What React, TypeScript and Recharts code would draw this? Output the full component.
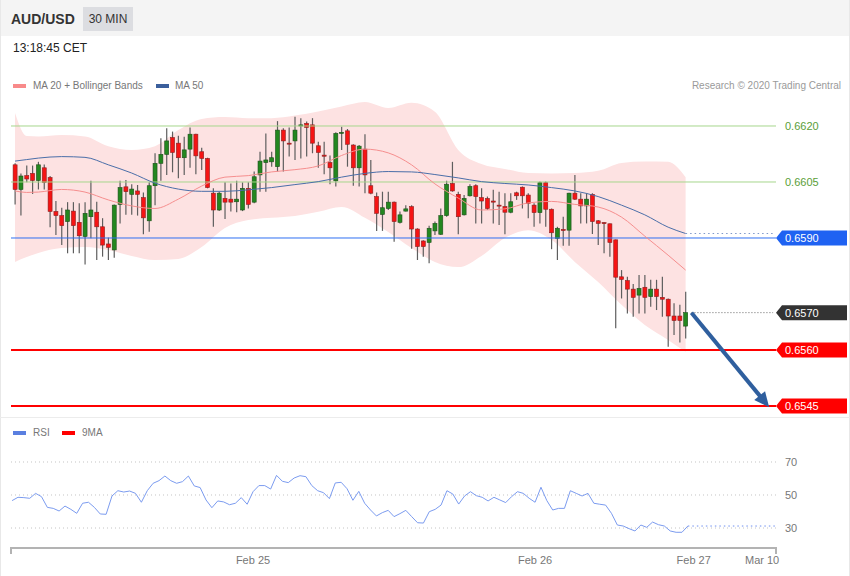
import React from 'react';
import { ComposedChart, Bar, Line, Area, XAxis, YAxis, ReferenceLine } from 'recharts';

const FONT = '"Liberation Sans", Arial, Helvetica, sans-serif';

// AUD/USD 30 min candles, oldest first
const open = [
  0.66096, 0.66030, 0.66067, 0.66073, 0.66054, 0.66088, 0.66062, 0.65971, 0.65960, 0.65944,
  0.65972, 0.65942, 0.65904, 0.65957, 0.65969, 0.65930, 0.65884, 0.65868, 0.65990, 0.66037,
  0.66017, 0.66026, 0.66008, 0.65946, 0.66040, 0.66100, 0.66124, 0.66169, 0.66154, 0.66115,
  0.66138, 0.66178, 0.66131, 0.66113, 0.66020, 0.65975, 0.66006, 0.66004, 0.65997, 0.65975,
  0.66033, 0.65996, 0.66069, 0.66102, 0.66104, 0.66091, 0.66189, 0.66154, 0.66160, 0.66200,
  0.66207, 0.66203, 0.66147, 0.66122, 0.66102, 0.66053, 0.66180, 0.66187, 0.66149, 0.66088,
  0.66138, 0.66040, 0.66011, 0.65963, 0.65979, 0.65996, 0.65942, 0.65972, 0.65984, 0.65924,
  0.65892, 0.65888, 0.65919, 0.65910, 0.65960, 0.66046, 0.66017, 0.65962, 0.66013, 0.66040,
  0.66008, 0.66006, 0.65999, 0.65988, 0.65984, 0.65969, 0.66021, 0.66036, 0.66015, 0.65988,
  0.65968, 0.66048, 0.65977, 0.65899, 0.65923, 0.65921, 0.66020, 0.66004, 0.65986, 0.66017,
  0.65946, 0.65941, 0.65938, 0.65895, 0.65796, 0.65786, 0.65763, 0.65747, 0.65768, 0.65743,
  0.65763, 0.65741, 0.65736, 0.65691, 0.65691, 0.65664,
];
const high = [
  0.66100, 0.66073, 0.66094, 0.66094, 0.66104, 0.66097, 0.66066, 0.65999, 0.65981, 0.65996,
  0.65996, 0.65993, 0.65996, 0.66053, 0.65997, 0.65953, 0.65901, 0.65990, 0.66053, 0.66055,
  0.66044, 0.66042, 0.66022, 0.66049, 0.66127, 0.66167, 0.66194, 0.66185, 0.66174, 0.66171,
  0.66196, 0.66179, 0.66142, 0.66115, 0.66033, 0.66024, 0.66049, 0.66046, 0.66053, 0.66049,
  0.66049, 0.66078, 0.66131, 0.66180, 0.66131, 0.66213, 0.66194, 0.66196, 0.66225, 0.66221,
  0.66212, 0.66221, 0.66158, 0.66158, 0.66121, 0.66183, 0.66198, 0.66192, 0.66151, 0.66149,
  0.66178, 0.66109, 0.66022, 0.66024, 0.66024, 0.65998, 0.65971, 0.65988, 0.65988, 0.65926,
  0.65894, 0.65933, 0.65944, 0.65979, 0.66053, 0.66104, 0.66024, 0.66015, 0.66044, 0.66044,
  0.66033, 0.66011, 0.66029, 0.66024, 0.66020, 0.66020, 0.66024, 0.66038, 0.66020, 0.65993,
  0.66051, 0.66051, 0.65979, 0.65930, 0.65957, 0.66021, 0.66069, 0.66020, 0.66020, 0.66020,
  0.65948, 0.65943, 0.65939, 0.65896, 0.65814, 0.65796, 0.65777, 0.65801, 0.65801, 0.65788,
  0.65788, 0.65796, 0.65738, 0.65725, 0.65721, 0.65756,
];
const low = [
  0.65990, 0.65960, 0.66049, 0.66018, 0.66030, 0.66030, 0.65929, 0.65908, 0.65881, 0.65859,
  0.65859, 0.65859, 0.65829, 0.65899, 0.65841, 0.65850, 0.65841, 0.65847, 0.65939, 0.65962,
  0.65962, 0.65960, 0.65910, 0.65917, 0.65988, 0.66053, 0.66069, 0.66076, 0.66060, 0.66069,
  0.66088, 0.66071, 0.66082, 0.66033, 0.65930, 0.65972, 0.65951, 0.65971, 0.65969, 0.65972,
  0.65979, 0.65993, 0.66024, 0.66024, 0.66091, 0.66078, 0.66078, 0.66118, 0.66109, 0.66113,
  0.66118, 0.66127, 0.66088, 0.66071, 0.66044, 0.66038, 0.66136, 0.66091, 0.66040, 0.66038,
  0.66020, 0.66017, 0.65919, 0.65919, 0.65975, 0.65890, 0.65939, 0.65971, 0.65871, 0.65841,
  0.65850, 0.65832, 0.65908, 0.65908, 0.65957, 0.66024, 0.65910, 0.65960, 0.66011, 0.65939,
  0.65939, 0.65975, 0.65939, 0.65935, 0.65910, 0.65966, 0.66002, 0.65979, 0.65953, 0.65930,
  0.65939, 0.65930, 0.65870, 0.65841, 0.65879, 0.65879, 0.66002, 0.65939, 0.65939, 0.65911,
  0.65881, 0.65859, 0.65850, 0.65658, 0.65738, 0.65698, 0.65689, 0.65698, 0.65698, 0.65716,
  0.65707, 0.65689, 0.65609, 0.65640, 0.65620, 0.65631,
];
const close = [
  0.66030, 0.66066, 0.66058, 0.66054, 0.66096, 0.66049, 0.65971, 0.65960, 0.65933, 0.65975,
  0.65933, 0.65906, 0.65966, 0.65975, 0.65930, 0.65881, 0.65875, 0.65988, 0.66035, 0.66024,
  0.66031, 0.66017, 0.65954, 0.66040, 0.66100, 0.66124, 0.66160, 0.66129, 0.66115, 0.66136,
  0.66178, 0.66120, 0.66113, 0.66035, 0.65975, 0.66020, 0.65996, 0.65996, 0.66004, 0.66033,
  0.65990, 0.66064, 0.66106, 0.66109, 0.66115, 0.66189, 0.66160, 0.66152, 0.66189, 0.66203,
  0.66196, 0.66154, 0.66129, 0.66119, 0.66088, 0.66180, 0.66183, 0.66151, 0.66088, 0.66146,
  0.66069, 0.66020, 0.65966, 0.65981, 0.65996, 0.65944, 0.65962, 0.65978, 0.65924, 0.65877,
  0.65877, 0.65926, 0.65939, 0.65960, 0.66044, 0.66026, 0.65957, 0.66006, 0.66038, 0.66011,
  0.65999, 0.65979, 0.65996, 0.65986, 0.65969, 0.65997, 0.66013, 0.66013, 0.65993, 0.65968,
  0.66048, 0.65977, 0.65914, 0.65926, 0.65920, 0.66020, 0.66004, 0.65986, 0.66004, 0.65944,
  0.65939, 0.65939, 0.65888, 0.65795, 0.65789, 0.65763, 0.65741, 0.65765, 0.65741, 0.65763,
  0.65743, 0.65736, 0.65691, 0.65679, 0.65679, 0.65700,
];

// overlays, every few candles
const overlayAt = [0, 2, 4, 8, 12, 16, 20, 24, 28, 32, 36, 40, 44, 48, 52, 56, 60, 64, 68, 72, 76, 80, 84, 88, 92, 96, 100, 104, 108, 112, 115];
const ma20 = [
  0.66026, 0.66022, 0.66023, 0.66030, 0.66023, 0.66002, 0.65986, 0.65979, 0.66004, 0.66039,
  0.66063, 0.66067, 0.66077, 0.66083, 0.66093, 0.66121, 0.66138, 0.66128, 0.66096, 0.66045,
  0.66007, 0.65975, 0.65978, 0.65994, 0.65998, 0.65990, 0.65983, 0.65956, 0.65905, 0.65854,
  0.65814,
];
const ma50 = [
  0.66106, 0.66110, 0.66114, 0.66118, 0.66116, 0.66096, 0.66074, 0.66047, 0.66031, 0.66025,
  0.66025, 0.66029, 0.66035, 0.66043, 0.66051, 0.66063, 0.66073, 0.66078, 0.66077, 0.66070,
  0.66061, 0.66051, 0.66046, 0.66042, 0.66035, 0.66026, 0.66011, 0.65988, 0.65962, 0.65929,
  0.65912,
];
const bbUpper = [
  0.66235, 0.66173, 0.66172, 0.66176, 0.66172, 0.66146, 0.66136, 0.66146, 0.66189, 0.66219,
  0.66224, 0.66221, 0.66221, 0.66228, 0.66239, 0.66252, 0.66264, 0.66248, 0.66262, 0.66238,
  0.66136, 0.66098, 0.66085, 0.66074, 0.66073, 0.66074, 0.66080, 0.66101, 0.66105, 0.66104,
  0.66063,
];
const bbLower = [
  0.65836, 0.65849, 0.65860, 0.65873, 0.65876, 0.65868, 0.65852, 0.65841, 0.65844, 0.65876,
  0.65927, 0.65948, 0.65954, 0.65959, 0.65970, 0.65983, 0.65954, 0.65916, 0.65873, 0.65836,
  0.65822, 0.65852, 0.65900, 0.65921, 0.65895, 0.65836, 0.65782, 0.65721, 0.65667, 0.65627,
  0.65595,
];

const rsi = [
  46.6, 48.6, 48.4, 48.0, 51.0, 49.0, 42.5, 41.9, 40.3, 43.3,
  41.3, 38.9, 45.0, 45.6, 42.5, 38.5, 38.3, 49.4, 52.6, 51.8,
  52.4, 51.0, 45.6, 52.6, 57.1, 58.7, 61.5, 58.7, 57.1, 58.1,
  61.5, 55.5, 54.5, 47.0, 42.3, 46.4, 45.8, 44.1, 45.0, 48.4,
  44.4, 52.0, 55.7, 55.7, 53.6, 61.9, 58.3, 57.5, 60.3, 61.7,
  61.1, 55.7, 52.6, 51.4, 47.8, 57.3, 57.7, 53.8, 46.8, 52.2,
  45.0, 40.9, 37.3, 39.3, 40.7, 36.9, 38.7, 40.7, 36.9, 33.2,
  33.0, 39.9, 41.3, 43.9, 52.6, 50.6, 44.5, 49.4, 52.0, 49.6,
  48.6, 46.4, 48.6, 47.0, 45.4, 49.0, 52.0, 51.0, 48.0, 45.6,
  54.7, 46.6, 40.9, 41.9, 41.9, 52.6, 51.0, 49.4, 51.0, 45.0,
  44.4, 43.9, 38.9, 31.8, 31.2, 29.6, 28.2, 31.8, 30.4, 33.6,
  32.0, 31.2, 28.2, 27.4, 27.4, 31.2,
];
const rsiLevels = [70, 50, 30];

const slotCount = 131; // candles + empty space on the right
const dateTicks = [41, 89, 116, 128];
const dateLabels = ['Feb 25', 'Feb 26', 'Feb 27', 'Mar 10'];

const resistances = [0.662, 0.6605];
const pivot = 0.659;
const lastPrice = 0.657;
const supports = [0.656, 0.6545];
const arrowFrom = 116;
const arrowTo = 129;
const arrowTarget = 0.65453;

const lastIdx = open.length - 1;
const rows = Array.from({ length: slotCount }, (_, i) => {
  const row: any = { i };
  if (i <= lastIdx) {
    row.range = [low[i], high[i]];
    row.o = open[i];
    row.c = close[i];
    row.rsi = rsi[i];
  }
  const k = overlayAt.indexOf(i);
  if (k >= 0) {
    row.ma20 = ma20[k];
    row.ma50 = ma50[k];
    row.band = [bbLower[k], bbUpper[k]];
  }
  if (i === lastIdx || i === slotCount - 1) {
    row.ma50Ext = ma50[ma50.length - 1];
    row.rsiExt = rsi[lastIdx];
  }
  return row;
});

const xPad = { left: 1.1, right: 0 };

const Candle = (props: any) => {
  const { x, y, width, height, payload } = props;
  if (!payload || payload.o == null) return null;
  const [lo, hi] = payload.range;
  const top = Math.min(y, y + height);
  const h = Math.abs(height);
  const py = (p: number) => top + ((hi - p) / (hi - lo)) * h;
  const up = payload.c >= payload.o;
  const bTop = py(Math.max(payload.o, payload.c));
  const bH = Math.max(1, py(Math.min(payload.o, payload.c)) - bTop);
  const cx = x + width / 2;
  return (
    <g>
      <line x1={cx} x2={cx} y1={top} y2={top + h} stroke="#5e5e5e" strokeWidth={1.2} />
      <rect x={x} y={bTop} width={width} height={bH}
        fill={up ? '#23871f' : '#f51414'} stroke={up ? '#1c4f1a' : '#8a2020'} strokeWidth={0.6} />
    </g>
  );
};

const badge = (text: string, fill: string) => (p: any) => {
  const vb = p.viewBox || p;
  const x = vb.x + vb.width;
  const y = vb.y;
  return (
    <g>
      <polygon points={`${x},${y} ${x + 6},${y - 7.5} ${x + 71},${y - 7.5} ${x + 71},${y + 7.5} ${x + 6},${y + 7.5}`} fill={fill} />
      <text x={x + 9} y={y} dy="0.36em" fill="#fff" fontSize={11} fontFamily={FONT}>{text}</text>
    </g>
  );
};

const plainLabel = (text: string, color: string) => (p: any) => {
  const vb = p.viewBox || p;
  return (
    <text x={vb.x + vb.width + 9} y={vb.y} dy="0.36em" fill={color} fontSize={11} fontFamily={FONT}>{text}</text>
  );
};

const Arrow = (p: any) => {
  const { x1, y1, x2, y2 } = p;
  const dx = x2 - x1, dy = y2 - y1;
  const len = Math.sqrt(dx * dx + dy * dy);
  const ux = dx / len, uy = dy / len;
  const tx = x2 + ux * 3, ty = y2 + uy * 3;
  const bx = tx - ux * 15, by = ty - uy * 15;
  return (
    <g>
      <line x1={x1} y1={y1} x2={bx + ux * 2} y2={by + uy * 2} stroke="#2f5f9e" strokeWidth={4} />
      <polygon points={`${tx},${ty} ${bx - uy * 7},${by + ux * 7} ${bx + uy * 7},${by - ux * 7}`} fill="#2f5f9e" />
    </g>
  );
};

const DateTick = (p: any) => {
  const { x, y, payload } = p;
  const k = dateTicks.indexOf(Number(payload.value));
  const lastTick = k === dateTicks.length - 1;
  return (
    <text x={lastTick ? x + 15 : x} y={y} dy="0.71em" textAnchor={lastTick ? 'end' : 'middle'}
      fill="#777" fontSize={11} fontFamily={FONT}>
      {dateLabels[k]}
    </text>
  );
};

const txt = (extra: React.CSSProperties): React.CSSProperties => ({
  position: 'absolute', fontFamily: FONT, whiteSpace: 'nowrap', lineHeight: 1, ...extra,
});

export default function App() {
  return (
    <div style={{ position: 'absolute', left: 0, top: 0, width: 850, height: 576, background: '#fff', overflow: 'hidden' }}>
      <div style={{ position: 'absolute', left: 0, top: 0, width: 850, height: 36, background: '#f4f4f4' }} />
      <div style={{ position: 'absolute', left: 0, top: 0, width: 1, height: 576, background: '#e8e8e8' }} />
      <div style={{ position: 'absolute', left: 849, top: 0, width: 1, height: 576, background: '#e8e8e8' }} />
      <div style={{ position: 'absolute', left: 0, top: 417, width: 850, height: 1, background: '#ececec' }} />
      <div style={txt({ left: 11, top: 12, fontSize: 14, fontWeight: 700, color: '#333' })}>AUD/USD</div>
      <div style={{ position: 'absolute', left: 83, top: 7, width: 50, height: 24, background: '#dcdde1' }} />
      <div style={txt({ left: 83, top: 13, width: 50, textAlign: 'center', fontSize: 12, color: '#333' })}>30 MIN</div>
      <div style={txt({ left: 13, top: 42, fontSize: 12, color: '#222' })}>13:18:45 CET</div>

      <div style={{ position: 'absolute', left: 13, top: 84, width: 13, height: 4, background: '#f88a8a' }} />
      <div style={txt({ left: 33, top: 81, fontSize: 10, color: '#777' })}>MA 20 + Bollinger Bands</div>
      <div style={{ position: 'absolute', left: 156, top: 84, width: 13, height: 4, background: '#3b5f9c' }} />
      <div style={txt({ left: 175, top: 81, fontSize: 10, color: '#777' })}>MA 50</div>
      <div style={txt({ right: 9, top: 81, fontSize: 10, color: '#9a9a9a' })}>Research © 2020 Trading Central</div>

      <div style={{ position: 'absolute', left: 0, top: 95 }}>
        <ComposedChart width={850} height={322} data={rows} margin={{ top: 0, right: 74, bottom: 0, left: 11 }}>
          <XAxis dataKey="i" type="category" hide padding={xPad} />
          <YAxis hide domain={[0.654205, 0.66283]} allowDataOverflow />
          <Area dataKey="band" type="monotone" connectNulls fill="#fde2e2" fillOpacity={1} stroke="none" isAnimationActive={false} />
          {resistances.map((v) => (
            <ReferenceLine key={v} y={v} stroke="#a6d68c" strokeWidth={1} label={plainLabel(v.toFixed(4), '#5a9e37')} />
          ))}
          <ReferenceLine y={pivot} stroke="#2f6ff2" strokeWidth={1} label={badge(pivot.toFixed(4), '#1f62f2')} />
          {supports.map((v) => (
            <ReferenceLine key={v} y={v} stroke="#ff0000" strokeWidth={2} label={badge(v.toFixed(4), '#ff0000')} />
          ))}
          <ReferenceLine y={lastPrice} stroke="none" label={badge(lastPrice.toFixed(4), '#333333')} />
          <ReferenceLine segment={[{ x: arrowFrom, y: lastPrice }, { x: slotCount - 1, y: lastPrice }]} stroke="#666" strokeDasharray="1 2" />
          <Line dataKey="ma20" type="monotone" connectNulls stroke="#f58e8e" strokeWidth={1} dot={false} isAnimationActive={false} />
          <Line dataKey="ma50" type="monotone" connectNulls stroke="#4a6ea8" strokeWidth={1} dot={false} isAnimationActive={false} />
          <Line dataKey="ma50Ext" connectNulls stroke="#7f98c9" strokeWidth={1} strokeDasharray="1.5 3" dot={false} isAnimationActive={false} />
          <Bar dataKey="range" barSize={4} shape={(p: any) => <Candle {...p} />} isAnimationActive={false} />
          <ReferenceLine segment={[{ x: arrowFrom, y: lastPrice }, { x: arrowTo, y: arrowTarget }]} shape={(p: any) => <Arrow {...p} />} />
        </ComposedChart>
      </div>

      <div style={{ position: 'absolute', left: 13, top: 431, width: 13, height: 4, background: '#5a7fe0' }} />
      <div style={txt({ left: 33, top: 428, fontSize: 10, color: '#777' })}>RSI</div>
      <div style={{ position: 'absolute', left: 62, top: 431, width: 13, height: 4, background: '#ff0000' }} />
      <div style={txt({ left: 82, top: 428, fontSize: 10, color: '#777' })}>9MA</div>

      <div style={{ position: 'absolute', left: 0, top: 440 }}>
        <ComposedChart width={850} height={128} data={rows} margin={{ top: 0, right: 74, bottom: 0, left: 11 }}>
          <XAxis dataKey="i" type="category" padding={xPad} ticks={dateTicks} interval={0}
            tickLine={false} axisLine={{ stroke: '#b3b3b3', strokeWidth: 2 }}
            tick={(p: any) => <DateTick {...p} />} height={20} />
          <YAxis hide domain={[17.88, 83.33]} allowDataOverflow />
          {rsiLevels.map((v) => (
            <ReferenceLine key={v} y={v} stroke="#c4c4c4" strokeDasharray="1 3" label={plainLabel(String(v), '#777')} />
          ))}
          <Line dataKey="rsi" stroke="#7b9bef" strokeWidth={1} dot={false} isAnimationActive={false} />
          <Line dataKey="rsiExt" connectNulls stroke="#6f8ff0" strokeWidth={1} strokeDasharray="1.5 3" dot={false} isAnimationActive={false} />
        </ComposedChart>
      </div>
      <div style={{ position: 'absolute', left: 10, top: 547, width: 2, height: 7, background: '#b3b3b3' }} />
      <div style={{ position: 'absolute', left: 775, top: 547, width: 2, height: 7, background: '#b3b3b3' }} />
    </div>
  );
}
